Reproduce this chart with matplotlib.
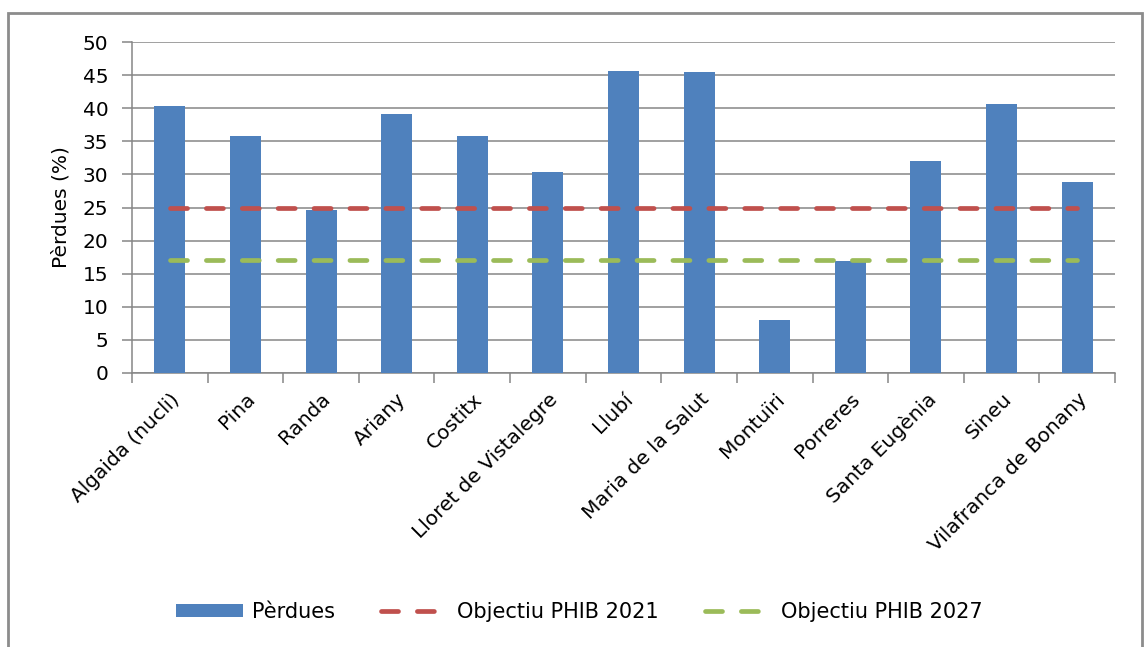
import numpy as np
import matplotlib.pyplot as plt
from matplotlib.patches import Rectangle

pobles = ['Algaida (nucli)', 'Pina', 'Randa', 'Ariany', 'Costitx',
          'Lloret de Vistalegre', 'Llubí', 'Maria de la Salut', 'Montuïri',
          'Porreres', 'Santa Eugènia', 'Sineu', 'Vilafranca de Bonany']
perdues = [40.4, 35.8, 24.7, 39.1, 35.8, 30.4, 45.7, 45.5, 8.0, 16.9, 32.1, 40.6, 28.8]
objectiu_2021 = [25] * len(pobles)
objectiu_2027 = [17] * len(pobles)

plt.rcParams['font.family'] = ['DejaVu Sans']
grey = '#868686'

fig = plt.figure(figsize=(11.45, 6.47), dpi=100)
ax = fig.add_axes([0.1153, 0.4235, 0.8585, 0.5115])

# outer chart frame
fig.patches.append(Rectangle((8 / 1145, -0.05), 1134 / 1145, 1.05 - 13 / 647,
                             transform=fig.transFigure, fill=False,
                             edgecolor='#8c8c8c', linewidth=2, zorder=0))

x = np.arange(len(pobles))
barres = ax.bar(x, perdues, width=0.41, color='#4F81BD', zorder=3, label='Pèrdues')
l21, = ax.plot(x, objectiu_2021, color='#C0504D', lw=3.4, dashes=(3.6, 4.0),
               dash_capstyle='round', zorder=4, label='Objectiu PHIB 2021')
l27, = ax.plot(x, objectiu_2027, color='#9BBB59', lw=3.4, dashes=(3.6, 4.0),
               dash_capstyle='round', zorder=4, label='Objectiu PHIB 2027')

ax.set_xlim(-0.5, len(pobles) - 0.5)
ax.set_ylim(0, 50)
ax.set_yticks(np.arange(0, 51, 5))
ax.yaxis.grid(True, color=grey, linewidth=1.1, zorder=0)
ax.set_axisbelow(True)

ax.set_xticks(x)
ax.set_xticklabels(pobles, rotation=45, ha='right', rotation_mode='anchor', fontsize=14.5)
ax.set_xticks(np.arange(-0.5, len(pobles)), minor=True)
ax.tick_params(axis='x', which='major', length=0, pad=12)
ax.tick_params(axis='x', which='minor', length=7, color=grey, width=1.1)
ax.tick_params(axis='y', length=7, color=grey, width=1.1, labelsize=14.5, pad=10)

for s in ['top', 'right']:
    ax.spines[s].set_visible(False)
for s in ['left', 'bottom']:
    ax.spines[s].set_color(grey)
    ax.spines[s].set_linewidth(1.1)

ax.set_ylabel('Pèrdues (%)', fontsize=14.5, labelpad=9)

fig.legend(handles=[barres, l21, l27], loc='center', bbox_to_anchor=(0.506, 1 - 612 / 647),
           ncol=3, frameon=False, fontsize=15, handlelength=3.2, handleheight=0.6,
           columnspacing=2.2, handletextpad=0.45)

fig.savefig('out.png', dpi=100)
